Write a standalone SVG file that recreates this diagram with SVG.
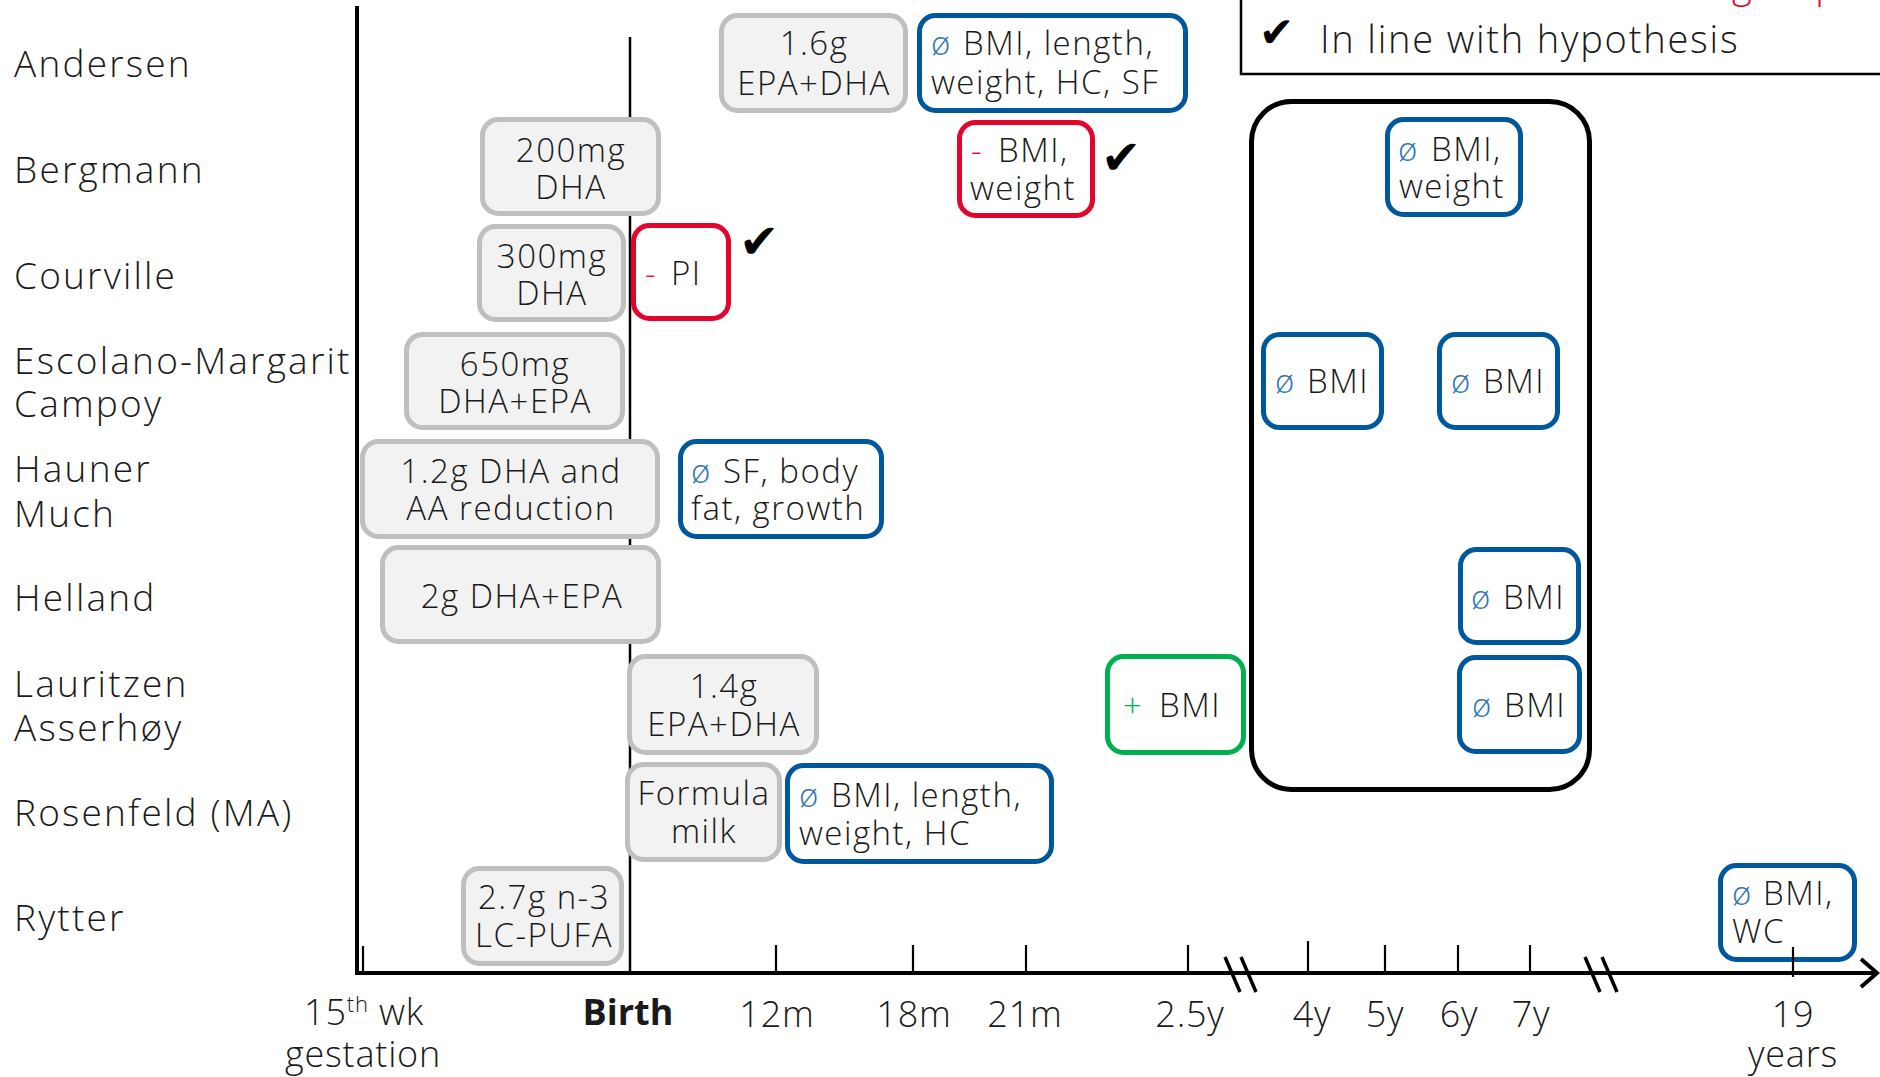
<svg xmlns="http://www.w3.org/2000/svg" width="1880" height="1077" viewBox="0 0 1880 1077">
<style>
text{font-family:"Open Sans","Liberation Sans",sans-serif;font-weight:300;fill:#1a1a1a}
.lbl{font-size:37px;letter-spacing:2.2px}
.bx{font-size:33px;letter-spacing:1.5px}
.mid{text-anchor:middle}
.ax{font-size:36px;letter-spacing:0.8px;text-anchor:middle}
.chk{font-family:"DejaVu Sans",sans-serif;font-weight:400;fill:#000}
.gy rect{fill:#f2f2f2;stroke:#bfbfbf;stroke-width:5}
.bl rect{fill:#fff;stroke:#00589c;stroke-width:5}
.rd rect{fill:#fff;stroke:#e2062c;stroke-width:5}
.gn rect{fill:#fff;stroke:#00b050;stroke-width:5}
.sb{fill:#2e75b6}
.sr{fill:#e8174a}
.sg{fill:#00b050}
.ln{stroke:#000;fill:none}
</style>

<g id="legend">
<rect x="1241" y="-10" width="700" height="84" fill="none" stroke="#000" stroke-width="2.5"/>
<text class="lbl" x="1732" y="-2" style="fill:#e2062c;font-size:38px;letter-spacing:1px">group</text>
<text class="chk" x="1259" y="47" font-size="42">✔</text>
<text class="lbl" x="1320" y="53" style="font-size:38px;letter-spacing:1.8px">In line with hypothesis</text>
</g>

<g id="study-labels">
<text class="lbl" x="14" y="77">Andersen</text>
<text class="lbl" x="14" y="183">Bergmann</text>
<text class="lbl" x="14" y="289">Courville</text>
<text class="lbl" x="14" y="374">Escolano-Margarit</text>
<text class="lbl" x="14" y="417">Campoy</text>
<text class="lbl" x="14" y="482">Hauner</text>
<text class="lbl" x="14" y="527">Much</text>
<text class="lbl" x="14" y="611">Helland</text>
<text class="lbl" x="14" y="697">Lauritzen</text>
<text class="lbl" x="14" y="741">Asserhøy</text>
<text class="lbl" x="14" y="826">Rosenfeld (MA)</text>
<text class="lbl" x="14" y="931">Rytter</text>
</g>

<g id="birth-line">
<line class="ln" x1="630" y1="37" x2="630" y2="973" stroke-width="2.5"/>
</g>

<g id="timeframe" class="ln">
<rect x="1251.5" y="101.5" width="338" height="688" rx="40" stroke-width="5" fill="none" stroke="#000"/>
</g>

<g id="andersen-dose" class="gy"><rect x="721.5" y="15.5" width="184" height="95" rx="16"/>
<text class="bx mid" x="814" y="55">1.6g</text><text class="bx mid" x="814" y="95">EPA+DHA</text></g>
<g id="andersen-out" class="bl"><rect x="919.5" y="15.5" width="266" height="95" rx="16"/>
<text class="bx" y="55"><tspan class="sb" x="931">ø</tspan><tspan x="963">BMI, length,</tspan></text>
<text class="bx" x="931" y="94">weight, HC, SF</text></g>

<g id="bergmann-dose" class="gy"><rect x="482.5" y="119.5" width="176" height="94" rx="16"/>
<text class="bx mid" x="571" y="162">200mg</text><text class="bx mid" x="571" y="199">DHA</text></g>
<g id="bergmann-out1" class="rd"><rect x="959.5" y="122.5" width="133" height="93" rx="16"/>
<text class="bx" y="162"><tspan class="sr" x="971">-</tspan><tspan x="998">BMI,</tspan></text>
<text class="bx" x="970" y="200">weight</text>
<text class="chk" x="1101" y="174" font-size="48">✔</text></g>
<g id="bergmann-out2" class="bl"><rect x="1387.5" y="119.5" width="133" height="95" rx="16"/>
<text class="bx" y="161"><tspan class="sb" x="1398">ø</tspan><tspan x="1431">BMI,</tspan></text>
<text class="bx" x="1399" y="198">weight</text></g>

<g id="courville-dose" class="gy"><rect x="479.5" y="226.5" width="144" height="93" rx="16"/>
<text class="bx mid" x="552" y="268">300mg</text><text class="bx mid" x="552" y="305">DHA</text></g>
<g id="courville-out" class="rd"><rect x="633.5" y="225.5" width="95" height="93" rx="16"/>
<text class="bx" y="285"><tspan class="sr" x="645">-</tspan><tspan x="671">PI</tspan></text>
<text class="chk" x="739" y="258" font-size="48">✔</text></g>

<g id="escolano-dose" class="gy"><rect x="406.5" y="334.5" width="216" height="93" rx="16"/>
<text class="bx mid" x="515" y="376">650mg</text><text class="bx mid" x="515" y="413">DHA+EPA</text></g>
<g id="escolano-out1" class="bl"><rect x="1263.5" y="334.5" width="118" height="93" rx="16"/>
<text class="bx" y="393"><tspan class="sb" x="1275">ø</tspan><tspan x="1307">BMI</tspan></text></g>
<g id="escolano-out2" class="bl"><rect x="1439.5" y="334.5" width="118" height="93" rx="16"/>
<text class="bx" y="393"><tspan class="sb" x="1451">ø</tspan><tspan x="1483">BMI</tspan></text></g>

<g id="hauner-dose" class="gy"><rect x="362.5" y="441.5" width="295" height="95" rx="16"/>
<text class="bx mid" x="511" y="483">1.2g DHA and</text><text class="bx mid" x="511" y="520">AA reduction</text></g>
<g id="hauner-out" class="bl"><rect x="680.5" y="441.5" width="201" height="95" rx="16"/>
<text class="bx" y="483"><tspan class="sb" x="691">ø</tspan><tspan x="723">SF, body</tspan></text>
<text class="bx" x="691" y="520">fat, growth</text></g>

<g id="helland-dose" class="gy"><rect x="382.5" y="547.5" width="276" height="94" rx="16"/>
<text class="bx mid" x="522" y="608">2g DHA+EPA</text></g>
<g id="helland-out" class="bl"><rect x="1460.5" y="549.5" width="118" height="93" rx="16"/>
<text class="bx" y="609"><tspan class="sb" x="1471">ø</tspan><tspan x="1503">BMI</tspan></text></g>

<g id="lauritzen-dose" class="gy"><rect x="629.5" y="656.5" width="187" height="96" rx="16"/>
<text class="bx mid" x="724" y="698">1.4g</text><text class="bx mid" x="724" y="736">EPA+DHA</text></g>
<g id="lauritzen-out1" class="gn"><rect x="1107.5" y="656.5" width="136" height="96" rx="16"/>
<text class="bx" y="717"><tspan class="sg" x="1123">+</tspan><tspan x="1159">BMI</tspan></text></g>
<g id="lauritzen-out2" class="bl"><rect x="1459.5" y="657.5" width="120" height="94" rx="16"/>
<text class="bx" y="717"><tspan class="sb" x="1472">ø</tspan><tspan x="1504">BMI</tspan></text></g>

<g id="rosenfeld-dose" class="gy"><rect x="627.5" y="764.5" width="152" height="95" rx="16"/>
<text class="bx mid" x="704" y="805">Formula</text><text class="bx mid" x="704" y="843">milk</text></g>
<g id="rosenfeld-out" class="bl"><rect x="787.5" y="765.5" width="264" height="96" rx="16"/>
<text class="bx" y="807"><tspan class="sb" x="799">ø</tspan><tspan x="831">BMI, length,</tspan></text>
<text class="bx" x="799" y="845">weight, HC</text></g>

<g id="rytter-dose" class="gy"><rect x="463.5" y="868.5" width="158" height="95" rx="16"/>
<text class="bx mid" x="544" y="909">2.7g n-3</text><text class="bx mid" x="544" y="947">LC-PUFA</text></g>
<g id="rytter-out" class="bl"><rect x="1720.5" y="865.5" width="134" height="94" rx="16"/>
<text class="bx" y="905"><tspan class="sb" x="1732">ø</tspan><tspan x="1763">BMI,</tspan></text>
<text class="bx" x="1732" y="943">WC</text></g>

<g id="axis" class="ln">
<line x1="357" y1="6" x2="357" y2="975" stroke-width="4"/>
<line x1="355" y1="973" x2="1876" y2="973" stroke-width="4"/>
<polyline points="1861,959 1877,973 1861,987" stroke-width="4"/>
<g stroke-width="2.2">
<line x1="363" y1="946" x2="363" y2="973"/>
<line x1="776" y1="945" x2="776" y2="973"/>
<line x1="913" y1="945" x2="913" y2="973"/>
<line x1="1026" y1="945" x2="1026" y2="973"/>
<line x1="1188" y1="945" x2="1188" y2="973"/>
<line x1="1308" y1="941" x2="1308" y2="973"/>
<line x1="1385" y1="945" x2="1385" y2="973"/>
<line x1="1458" y1="945" x2="1458" y2="973"/>
<line x1="1530" y1="945" x2="1530" y2="973"/>
<line x1="1793" y1="947" x2="1793" y2="977"/>
</g>
<g stroke-width="3.5">
<line x1="1225" y1="957" x2="1240" y2="992"/>
<line x1="1241" y1="957" x2="1256" y2="992"/>
<line x1="1585" y1="957" x2="1600" y2="992"/>
<line x1="1602" y1="957" x2="1617" y2="992"/>
</g>
</g>

<g id="axis-labels">
<text class="ax" x="364" y="1025">15<tspan font-size="22" dy="-13">th</tspan><tspan dy="13"> wk</tspan></text>
<text class="ax" x="363" y="1067">gestation</text>
<text class="ax" x="628" y="1025" style="font-weight:700;letter-spacing:0">Birth</text>
<text class="ax" x="777" y="1027">12m</text>
<text class="ax" x="914" y="1027">18m</text>
<text class="ax" x="1025" y="1027">21m</text>
<text class="ax" x="1190" y="1027">2.5y</text>
<text class="ax" x="1312" y="1027">4y</text>
<text class="ax" x="1385" y="1027">5y</text>
<text class="ax" x="1459" y="1027">6y</text>
<text class="ax" x="1531" y="1027">7y</text>
<text class="ax" x="1793" y="1027">19</text>
<text class="ax" x="1793" y="1067">years</text>
</g>
</svg>
